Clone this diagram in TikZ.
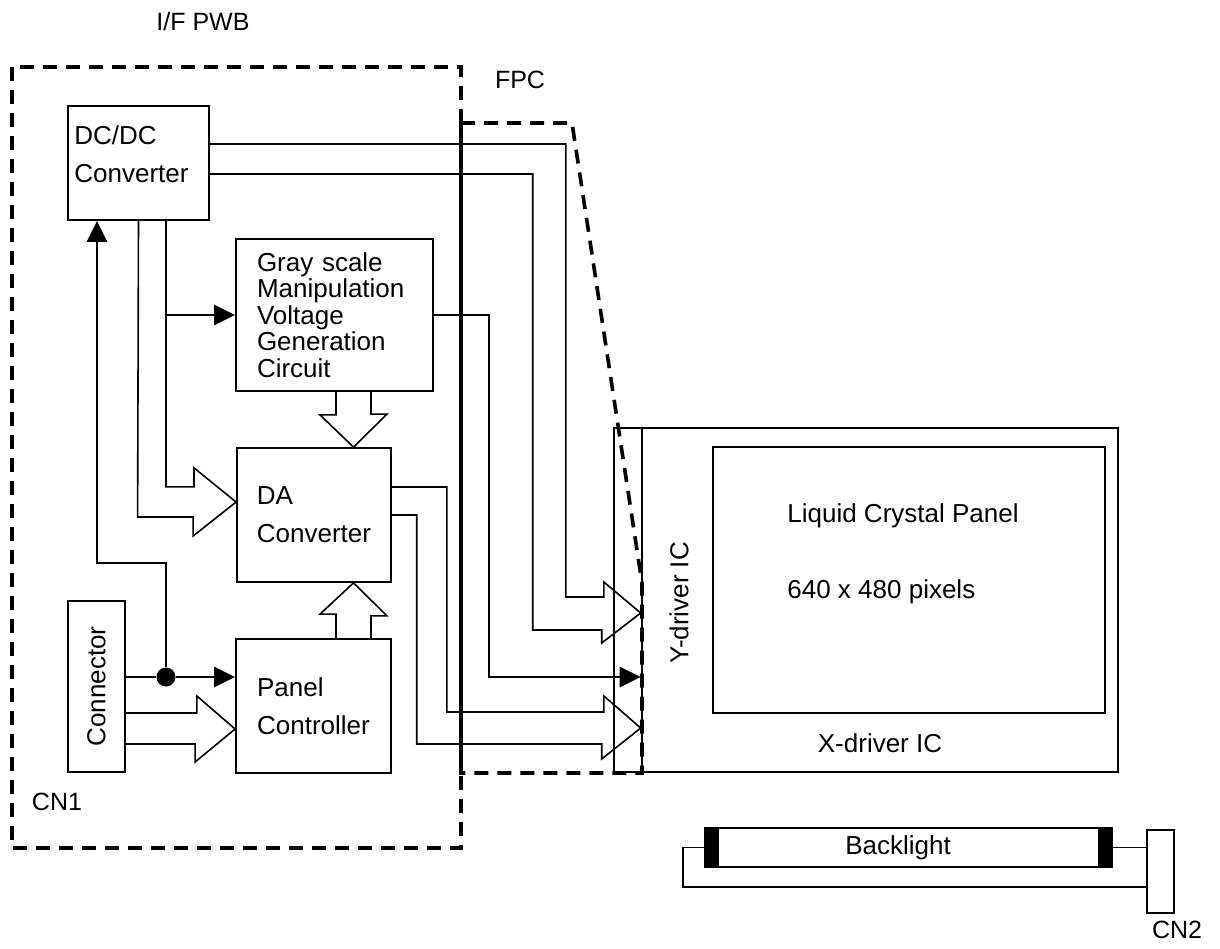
\documentclass[tikz,border=0pt]{standalone}
\usepackage{fontspec}
\setmainfont{Liberation Sans}
\usetikzlibrary{positioning,arrows.meta}
\tikzstyle{blk} = [draw, line width=0.9pt, inner sep=0pt, align=left, font=\fontsize{13}{19}\selectfont]
\tikzstyle{txt} = [inner sep=0pt, font=\fontsize{13}{19}\selectfont]
\tikzstyle{lbl} = [inner sep=0pt, font=\fontsize{12.5}{15}\selectfont]
\tikzstyle{wire} = [line width=0.8pt]
\tikzstyle{sig} = [line width=1.4pt, -{Triangle[length=10.5pt,width=10pt]}]
\tikzstyle{bdr} = [line width=1.8pt, dash pattern=on 7pt off 4.5pt]

\begin{document}
\begin{tikzpicture}[x=0.5pt, y=-0.5pt]
\useasboundingbox (0,0) rectangle (1220,948);

% boards
\draw[bdr] (12,67) rectangle (461,848);
\draw[bdr] (461,123) -- (572,123) -- (642,583) -- (642,773) -- (461,773) -- cycle;
\node[lbl] (pwb) at (203,22) {I/F PWB};
\node[lbl] (fpc) at (520,80) {FPC};
\node[lbl] (cn1) at (57,802) {CN1};

% blocks on the I/F board
\node[blk, minimum width=70.5pt, minimum height=57pt] (dcdc) at (138.5,163) {};
\node[txt, anchor=west, align=left] (dcdctxt) at (74,154) {DC/DC\\Converter};
\node[blk, minimum width=98.5pt, minimum height=76pt, text width=77.5pt,
      font=\fontsize{13}{13.25}\selectfont] (gray) at (334.5,315)
      {Gray scale\\Manipulation\\Voltage\\Generation\\Circuit};
\node[blk, minimum width=77pt, minimum height=67pt] (da) at (314,515) {DA\\Converter};
\node[blk, minimum width=77.5pt, minimum height=67pt] (panel) at (313.5,706) {Panel\\Controller};
\node[blk, minimum width=28.5pt, minimum height=85.5pt] (conn) at (96.5,686.5) {};
\node[txt, rotate=90] (conntxt) at (conn) {Connector};

% LCD module
\node[draw, line width=0.8pt, minimum width=14pt, minimum height=172pt, inner sep=0pt] (strip) at (628,600) {};
\node[draw, line width=1.3pt, minimum width=238pt, minimum height=172pt, inner sep=0pt] (lcd) at (880,600) {};
\node[draw, line width=1pt, minimum width=196pt, minimum height=133pt, inner sep=0pt] (lcp) at (909,580) {};
\node[txt, anchor=west] (lcptxt) at (787,516) {Liquid Crystal Panel};
\node[txt, anchor=west] (pixtxt) at (787,592) {640 x 480 pixels};
\node[txt] (xdrv) at (880,743) {X-driver IC};
\node[txt, rotate=90] (ydrv) at (679,603) {Y-driver IC};

\coordinate (tipA) at ([yshift=-6.5pt]lcd.west);
\coordinate (tipC) at ([yshift=-38.5pt]lcd.west);
\coordinate (tipD) at ([yshift=-64pt]lcd.west);

% DC/DC -> Y-driver
\draw[wire] ([yshift=9.5pt]dcdc.east) -- ++(356,0) -- ++(0,453) -- ++(38,0) -- ++(0,-15)
  -- (tipA) -- ++(-39,30) -- ++(0,-13) -- ++(-69,0) |- ([yshift=-5.5pt]dcdc.east);

% DC/DC -> DA converter
\draw[wire] ([xshift=13.75pt]dcdc.south) -- ++(0,266) -- ++(28,0) -- ++(0,-19)
  -- ([yshift=6.5pt]da.west) -- ++(-43,34) -- ++(0,-19) -- ++(-55.5,0) -- (dcdc.south);
\draw[sig] ([xshift=13.75pt]dcdc.south |- gray.west) -- (gray.west);

% gray scale -> DA, panel controller -> DA
\draw[wire] ([xshift=0.75pt]gray.south) -- ++(0,23) -- ++(-16,0) -- ([xshift=19.75pt]da.north)
  -- ++(33.5,-33) -- ++(-16,0) -- ++(0,-23);
\draw[wire] ([xshift=11.25pt]panel.north) -- ++(0,-24) -- ++(-16,0) -- ([xshift=19.75pt]da.south)
  -- ++(33.5,33) -- ++(-16,0) -- ++(0,24);

% connector -> panel controller
\draw[wire] ([yshift=-13.25pt]conn.east) -- ++(71,0) -- ++(0,-17) -- ([yshift=-11.5pt]panel.west)
  -- ++(-40,33) -- ++(0,-18) -- ++(-71,0);
\node[circle, fill, inner sep=0pt, minimum size=9.5pt] (junc) at (166,677) {};
\draw[line width=1.4pt] ([yshift=4.75pt]conn.east) -- (junc);
\draw[sig] (junc) -- (panel.west |- junc);
\draw[sig] (junc) -- ++(0,-114) -| ([xshift=-20.75pt]dcdc.south);

% gray scale -> Y-driver
\draw[sig] (gray.east) -- ++(55,0) |- (tipC);

% DA converter -> Y-driver
\draw[wire] ([yshift=14pt]da.east) -- ++(55,0) -- ++(0,225) -- ++(157,0) -- ++(0,-16)
  -- (tipD) -- ++(-39,31) -- ++(0,-15) -- ++(-185,0) |- (da.east);

% backlight
\node[draw, line width=0.9pt, minimum width=203.5pt, minimum height=19.5pt, inner sep=0pt] (tube) at (908.5,847.5) {};
\fill (tube.north west) rectangle ++(15,39);
\fill (tube.north east) rectangle ++(-15,39);
\node[txt] (bltxt) at (898,848) {Backlight};
\node[draw, line width=0.9pt, minimum width=13.5pt, minimum height=41.5pt, inner sep=0pt] (cn2) at (1160.5,871.5) {};
\node[lbl] (cn2txt) at (1177,930) {CN2};
\draw[wire] (tube.east) -- (cn2.west |- tube.east);
\draw[wire] (tube.west) -- ++(-21,0) |- ([yshift=-7.75pt]cn2.west);

\end{tikzpicture}
\end{document}
